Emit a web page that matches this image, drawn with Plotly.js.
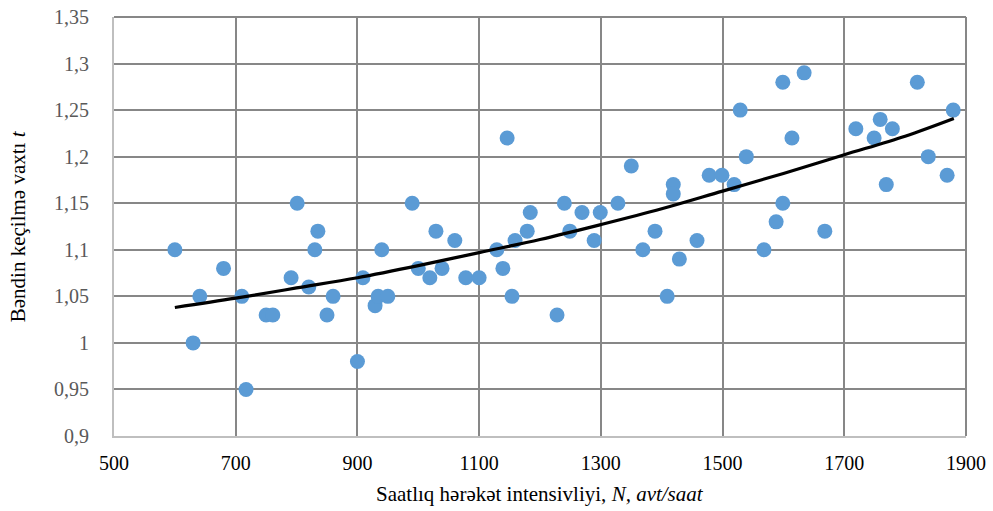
<!DOCTYPE html>
<html>
<head>
<meta charset="utf-8">
<script src="https://cdn.plot.ly/plotly-3.0.1.min.js"></script>
<style>
html,body{margin:0;padding:0;background:#fff;}
#chart{width:993px;height:511px;}
.warm{position:absolute;left:0;top:0;opacity:0;pointer-events:none;font-family:'Liberation Serif';font-size:20px;white-space:nowrap;}
</style>
</head>
<body>
<span class="warm">Saatlıq hərəkət intensivliyi 0123456789,</span>
<span class="warm" style="font-style:italic">N, avt/saat t</span>
<div id="chart"></div>
<script>
// Scatter data: hourly traffic intensity N (veh/h) vs. lane passing time t
const intensityN = [600,630,641,680,710,717,750,761,791,801,820,830,835,850,860,900,909,929,934,940,950,990,1000,1019,1029,1039,1060,1078,1100,1129,1139,1146,1154,1159,1179,1184,1228,1240,1249,1269,1289,1299,1328,1350,1369,1389,1409,1419,1419,1429,1458,1478,1499,1519,1529,1539,1568,1588,1599,1599,1614,1634,1668,1719,1749,1759,1769,1779,1820,1838,1869,1879];
const passTime = [1.10,1.00,1.05,1.08,1.05,0.95,1.03,1.03,1.07,1.15,1.06,1.10,1.12,1.03,1.05,0.98,1.07,1.04,1.05,1.10,1.05,1.15,1.08,1.07,1.12,1.08,1.11,1.07,1.07,1.10,1.08,1.22,1.05,1.11,1.12,1.14,1.03,1.15,1.12,1.14,1.11,1.14,1.15,1.19,1.10,1.12,1.05,1.17,1.16,1.09,1.11,1.18,1.18,1.17,1.25,1.20,1.10,1.13,1.28,1.15,1.22,1.29,1.12,1.23,1.22,1.24,1.17,1.23,1.28,1.20,1.18,1.25];

// Trend line
const trendN = [600,700,800,900,1000,1100,1200,1300,1400,1500,1600,1700,1800,1880];
const trendT = [1.038,1.048,1.059,1.070,1.083,1.097,1.111,1.127,1.144,1.163,1.182,1.202,1.222,1.241];

// Axis ticks and titles
const xTicks = [500,700,900,1100,1300,1500,1700,1900];
const yTicks = [0.9,0.95,1,1.05,1.1,1.15,1.2,1.25,1.3,1.35];
const yTickText = ['0,9','0,95','1','1,05','1,1','1,15','1,2','1,25','1,3','1,35'];
const xTitle = 'Saatlıq hərəkət intensivliyi, <i>N, avt/saat</i>';
const yTitle = 'Bəndin keçilmə vaxtı <i>t</i>';

const traces = [
  {
    x: intensityN, y: passTime, type: 'scatter', mode: 'markers',
    marker: {color: '#5B9BD5', size: 15, line: {width: 0}},
    hoverinfo: 'x+y', showlegend: false
  },
  {
    x: trendN, y: trendT, type: 'scatter', mode: 'lines',
    line: {color: '#000000', width: 3.2, shape: 'spline'},
    hoverinfo: 'skip', showlegend: false
  }
];

const layout = {
  width: 993, height: 511,
  margin: {l: 114, r: 27, t: 17, b: 75},
  paper_bgcolor: '#ffffff', plot_bgcolor: '#ffffff',
  separators: ', ',
  font: {family: 'Liberation Serif', size: 20, color: '#000000'},
  showlegend: false,
  xaxis: {
    range: [500, 1900], tickvals: xTicks, ticktext: xTicks.map(String),
    showgrid: true, gridcolor: '#878787', gridwidth: 2,
    zeroline: false, showline: true, linecolor: '#bfbfbf', linewidth: 2, mirror: false,
    ticks: 'outside', ticklen: 8, tickcolor: 'rgba(0,0,0,0)'
  },
  yaxis: {
    range: [0.9, 1.35], tickvals: yTicks, ticktext: yTickText,
    showgrid: true, gridcolor: '#878787', gridwidth: 2,
    zeroline: false, showline: true, linecolor: '#bfbfbf', linewidth: 2, mirror: false,
    ticks: 'outside', ticklen: 19, tickcolor: 'rgba(0,0,0,0)',
    tickfont: {color: '#595959'}
  },
  annotations: [
    {text: xTitle, xref: 'paper', yref: 'paper', x: 0.5, y: -0.138, xanchor: 'center', yanchor: 'middle', showarrow: false, font: {size: 21, color: '#000000'}},
    {text: yTitle, xref: 'paper', yref: 'paper', x: -0.113, y: 0.5, xanchor: 'center', yanchor: 'middle', textangle: -90, showarrow: false, font: {size: 21, color: '#000000'}}
  ],
  shapes: [
    {type: 'line', xref: 'paper', yref: 'paper', x0: 1, x1: 1, y0: 0, y1: 1, line: {color: '#878787', width: 2}},
    {type: 'line', xref: 'paper', yref: 'paper', x0: 0, x1: 1, y0: 1, y1: 1, line: {color: '#878787', width: 2}}
  ]
};

const draw = () => Plotly.newPlot('chart', traces, layout, {displayModeBar: false, staticPlot: true});
if (document.fonts && document.fonts.load) {
  Promise.all([
    document.fonts.load('20px "Liberation Serif"'),
    document.fonts.load('italic 20px "Liberation Serif"')
  ]).then(draw, draw);
} else {
  draw();
}
</script>
</body>
</html>
